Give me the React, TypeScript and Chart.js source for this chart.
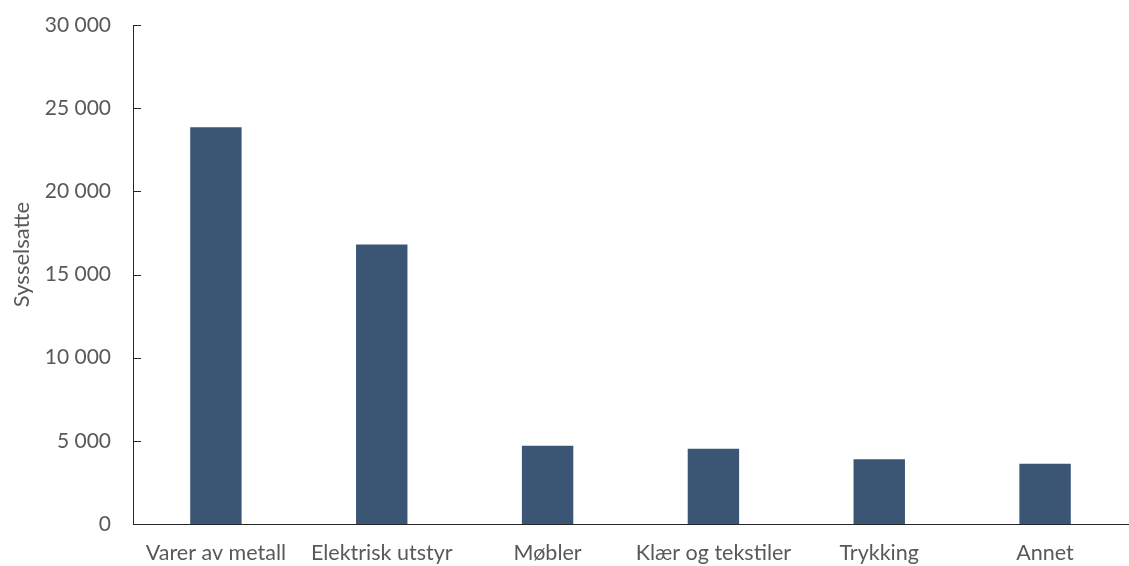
import React, { useEffect, useRef } from "react";
import { Chart, registerables } from "chart.js";

Chart.register(...registerables);

const categories = ["Varer av metall", "Elektrisk utstyr", "Møbler", "Klær og tekstiler", "Trykking", "Annet"];
const employed = [23850, 16800, 4700, 4520, 3900, 3620];
const yTicks = [0, 5000, 10000, 15000, 20000, 25000, 30000];
const yTitle = "Sysselsatte";

const fmt = (v: number) => String(Math.round(v)).replace(/\B(?=(\d{3})+(?!\d))/g, " ");

const TEXT = "#595959";
const FONT = "Lato, 'Open Sans', sans-serif";

const innerTicks = {
  id: "innerTicks",
  afterDraw(chart: any) {
    const y = chart.scales.y;
    const ctx = chart.ctx;
    const area = chart.chartArea;
    ctx.save();
    ctx.strokeStyle = "#262626";
    ctx.lineWidth = 1;
    for (const t of yTicks) {
      const py = Math.round(y.getPixelForValue(t)) + 0.5;
      ctx.beginPath();
      ctx.moveTo(area.left, py);
      ctx.lineTo(area.left + 8, py);
      ctx.stroke();
    }
    // axis title
    ctx.fillStyle = TEXT;
    ctx.font = `22px ${FONT}`;
    ctx.textAlign = "center";
    ctx.textBaseline = "middle";
    ctx.translate(22, (area.top + area.bottom) / 2 - 20);
    ctx.rotate(-Math.PI / 2);
    ctx.fillText(yTitle, 0, 0);
    ctx.restore();
  },
};

export default function App() {
  const ref = useRef<HTMLCanvasElement>(null);
  useEffect(() => {
    document.body.style.margin = "0";
    const chart = new Chart(ref.current!, {
      type: "bar",
      data: {
        labels: categories,
        datasets: [
          {
            data: employed,
            backgroundColor: "#3A5674",
            borderWidth: 0,
            categoryPercentage: 1,
            barPercentage: 0.31,
          },
        ],
      },
      options: {
        animation: false,
        responsive: false,
        maintainAspectRatio: false,
        layout: { padding: { top: 25, right: 1, left: 0, bottom: 0 } },
        plugins: { legend: { display: false }, tooltip: { enabled: false } },
        scales: {
          x: {
            grid: { display: false, drawTicks: false },
            border: { display: true, color: "#262626", width: 1 },
            ticks: { color: TEXT, font: { family: FONT, size: 21.5 }, padding: 16, maxRotation: 0, autoSkip: false },
            afterFit: (s: any) => { s.height = 42; s.paddingLeft = 0; s.paddingRight = 0; },
          },
          y: {
            min: 0,
            max: 30000,
            afterBuildTicks: (s: any) => { s.ticks = yTicks.map((v) => ({ value: v })); },
            grid: { display: false, drawTicks: false },
            border: { display: true, color: "#262626", width: 1 },
            ticks: { color: TEXT, font: { family: FONT, size: 21 }, padding: 22, callback: (v: any) => fmt(Number(v)) },
            afterFit: (s: any) => { s.width = 133; s.paddingTop = 0; s.paddingBottom = 0; },
          },
        },
      },
      plugins: [innerTicks],
    });
    return () => chart.destroy();
  }, []);
  return <canvas ref={ref} width={1129} height={566} style={{ display: "block" }} />;
}
